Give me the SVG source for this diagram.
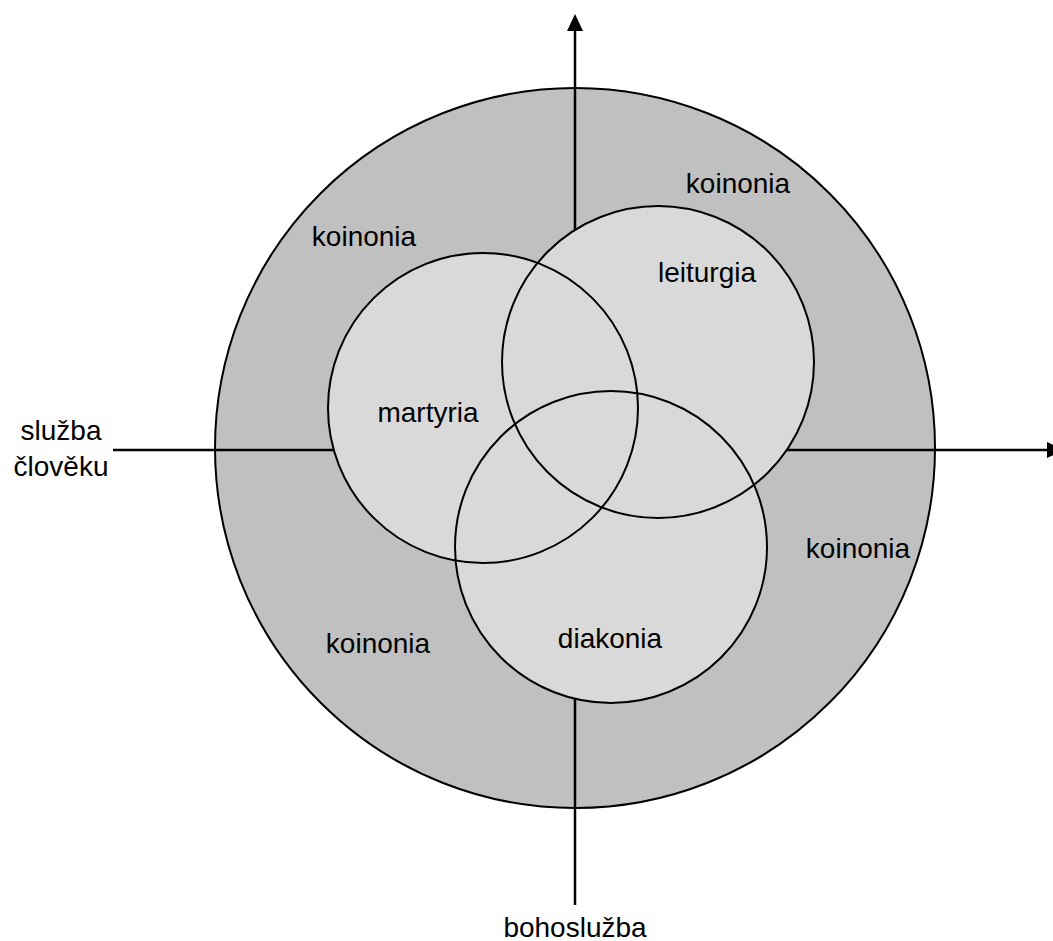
<svg xmlns="http://www.w3.org/2000/svg" width="1053" height="941" viewBox="0 0 1053 941">
<style>
.ln{stroke:#000;stroke-width:2.5;fill:none}
.in{fill:#d9d9d9}
.ins{fill:none;stroke:#000;stroke-width:2}
text{font-family:"Liberation Sans",Arial,sans-serif;font-size:28px;fill:#000;text-anchor:middle}
</style>
<g id="outer"><circle cx="575" cy="448" r="360" fill="#c0c0c0" stroke="#000" stroke-width="2"/></g>
<g id="connectors">
<line class="ln" x1="575" y1="905" x2="575" y2="30"/>
<path d="M567,31 L575,14 L583,31 Z" fill="#000"/>
<line class="ln" x1="113" y1="450" x2="1050" y2="450"/>
<path d="M1047,442 L1064,450 L1047,458 Z" fill="#000"/>
</g>
<g id="fills">
<circle class="in" cx="483" cy="408" r="155"/>
<circle class="in" cx="658" cy="362" r="156"/>
<circle class="in" cx="611" cy="547" r="156"/>
</g>
<g id="martyria"><circle class="ins" cx="483" cy="408" r="155"/><text x="428" y="422">martyria</text></g>
<g id="leiturgia"><circle class="ins" cx="658" cy="362" r="156"/><text x="707" y="282">leiturgia</text></g>
<g id="diakonia"><circle class="ins" cx="611" cy="547" r="156"/><text x="610" y="648">diakonia</text></g>
<g id="labels">
<text x="738" y="193">koinonia</text>
<text x="364" y="246">koinonia</text>
<text x="858" y="558">koinonia</text>
<text x="378" y="653">koinonia</text>
<text x="61" y="440">služba</text>
<text x="61" y="476">člověku</text>
<text x="575" y="937">bohoslužba</text>
</g>
</svg>
